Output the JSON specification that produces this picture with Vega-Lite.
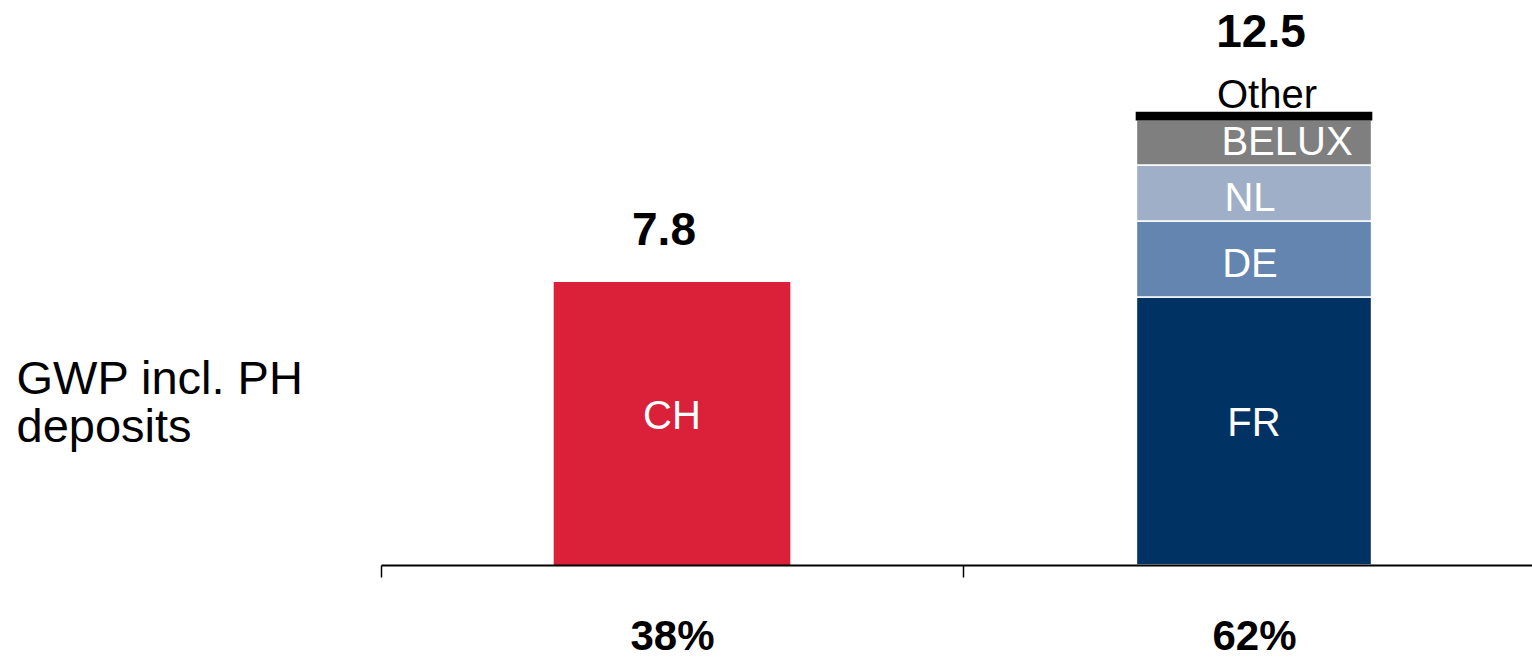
{
  "$schema": "https://vega.github.io/schema/vega-lite/v6.json",
  "autosize": {"type": "none"},
  "padding": {"left": 381, "top": 22, "right": 0, "bottom": 93},
  "width": 1164,
  "height": 543,
  "background": "white",
  "config": {
    "view": {"stroke": null},
    "font": "Liberation Sans",
    "text": {"font": "Liberation Sans"}
  },
  "datasets": {
    "segments": [
      {"share": "38%", "segment": "CH", "rank": 1, "value": 7.8},
      {"share": "62%", "segment": "FR", "rank": 1, "value": 7.4},
      {"share": "62%", "segment": "DE", "rank": 2, "value": 2.1},
      {"share": "62%", "segment": "NL", "rank": 3, "value": 1.55},
      {"share": "62%", "segment": "BELUX", "rank": 4, "value": 1.25},
      {"share": "62%", "segment": "Other", "rank": 5, "value": 0.2}
    ],
    "totals": [
      {"share": "38%", "total": 7.8},
      {"share": "62%", "total": 12.5}
    ]
  },
  "encoding": {
    "x": {
      "field": "share",
      "type": "nominal",
      "sort": null,
      "scale": {"type": "band", "domain": ["38%", "62%"], "paddingInner": 0, "paddingOuter": 0},
      "axis": {
        "title": null,
        "orient": "bottom",
        "domainColor": "black",
        "domainWidth": 2,
        "tickColor": "black",
        "tickWidth": 1.5,
        "tickSize": 12,
        "tickBand": "extent",
        "labelAngle": 0,
        "labelFont": "Liberation Sans",
        "labelFontSize": 42,
        "labelFontWeight": "bold",
        "labelColor": "black",
        "labelPadding": 72,
        "labelBaseline": "alphabetic",
        "labelOverlap": false,
        "labelBound": false,
        "zindex": 1
      }
    }
  },
  "layer": [
    {
      "data": {"name": "segments"},
      "transform": [
        {"stack": "value", "groupby": ["share"], "sort": [{"field": "rank", "order": "ascending"}], "as": ["y0", "y1"]}
      ],
      "mark": {"type": "bar", "width": {"band": 0.404}, "strokeWidth": 1.5},
      "encoding": {
        "y": {
          "field": "y1",
          "type": "quantitative",
          "scale": {"domain": [0, 15], "nice": false, "zero": true},
          "axis": {
            "domain": false,
            "ticks": false,
            "labels": false,
            "grid": false,
            "title": ["GWP incl. PH", "deposits"],
            "titleAngle": 0,
            "titleAlign": "left",
            "titleBaseline": "alphabetic",
            "titleX": -365,
            "titleY": 371,
            "titleFont": "Liberation Sans",
            "titleFontSize": 47,
            "titleFontWeight": "normal",
            "titleColor": "black",
            "titleLineHeight": 48
          }
        },
        "y2": {"field": "y0"},
        "color": {
          "field": "segment",
          "type": "nominal",
          "scale": {
            "domain": ["CH", "FR", "DE", "NL", "BELUX", "Other"],
            "range": ["#DB2039", "#003263", "#6385AF", "#9FAFC8", "#7F7F7F", "#000000"]
          },
          "legend": null
        },
        "stroke": {
          "field": "segment",
          "type": "nominal",
          "scale": {
            "domain": ["CH", "FR", "DE", "NL", "BELUX", "Other"],
            "range": ["#DB2039", "#FFFFFF", "#FFFFFF", "#FFFFFF", "#FFFFFF", "#000000"]
          },
          "legend": null
        }
      }
    },
    {
      "data": {"name": "segments"},
      "transform": [
        {"stack": "value", "groupby": ["share"], "sort": [{"field": "rank", "order": "ascending"}], "as": ["y0", "y1"]},
        {"calculate": "(datum.y0 + datum.y1) / 2", "as": "mid"},
        {"filter": "datum.segment === 'CH' || datum.segment === 'FR'"}
      ],
      "mark": {"type": "text", "color": "white", "fontSize": 40, "baseline": "middle", "align": "center", "dy": -7},
      "encoding": {
        "y": {"field": "mid", "type": "quantitative"},
        "text": {"field": "segment"}
      }
    },
    {
      "data": {"name": "segments"},
      "transform": [
        {"stack": "value", "groupby": ["share"], "sort": [{"field": "rank", "order": "ascending"}], "as": ["y0", "y1"]},
        {"calculate": "(datum.y0 + datum.y1) / 2", "as": "mid"},
        {"filter": "datum.segment === 'DE' || datum.segment === 'NL'"}
      ],
      "mark": {"type": "text", "color": "white", "fontSize": 40, "baseline": "middle", "align": "center", "dx": -4, "dy": 6},
      "encoding": {
        "y": {"field": "mid", "type": "quantitative"},
        "text": {"field": "segment"}
      }
    },
    {
      "data": {"name": "segments"},
      "transform": [
        {"stack": "value", "groupby": ["share"], "sort": [{"field": "rank", "order": "ascending"}], "as": ["y0", "y1"]},
        {"calculate": "(datum.y0 + datum.y1) / 2", "as": "mid"},
        {"filter": "datum.segment === 'BELUX'"}
      ],
      "mark": {"type": "text", "color": "white", "fontSize": 40, "baseline": "middle", "align": "center", "dx": 33, "dy": 1},
      "encoding": {
        "y": {"field": "mid", "type": "quantitative"},
        "text": {"field": "segment"}
      }
    },
    {
      "data": {"name": "segments"},
      "transform": [
        {"stack": "value", "groupby": ["share"], "sort": [{"field": "rank", "order": "ascending"}], "as": ["y0", "y1"]},
        {"filter": "datum.segment === 'Other'"}
      ],
      "mark": {"type": "text", "color": "black", "fontSize": 40, "baseline": "alphabetic", "align": "center", "dx": 13, "dy": -5},
      "encoding": {
        "y": {"field": "y1", "type": "quantitative"},
        "text": {"field": "segment"}
      }
    },
    {
      "data": {"name": "totals"},
      "transform": [{"filter": "datum.share === '38%'"}],
      "mark": {"type": "text", "color": "black", "fontSize": 46, "fontWeight": "bold", "baseline": "alphabetic", "align": "center", "dx": -8, "dy": -38},
      "encoding": {
        "y": {"field": "total", "type": "quantitative"},
        "text": {"field": "total", "type": "quantitative", "format": ".1f"}
      }
    },
    {
      "data": {"name": "totals"},
      "transform": [{"filter": "datum.share === '62%'"}],
      "mark": {"type": "text", "color": "black", "fontSize": 46, "fontWeight": "bold", "baseline": "alphabetic", "align": "center", "dx": 7, "dy": -66},
      "encoding": {
        "y": {"field": "total", "type": "quantitative"},
        "text": {"field": "total", "type": "quantitative", "format": ".1f"}
      }
    }
  ]
}
